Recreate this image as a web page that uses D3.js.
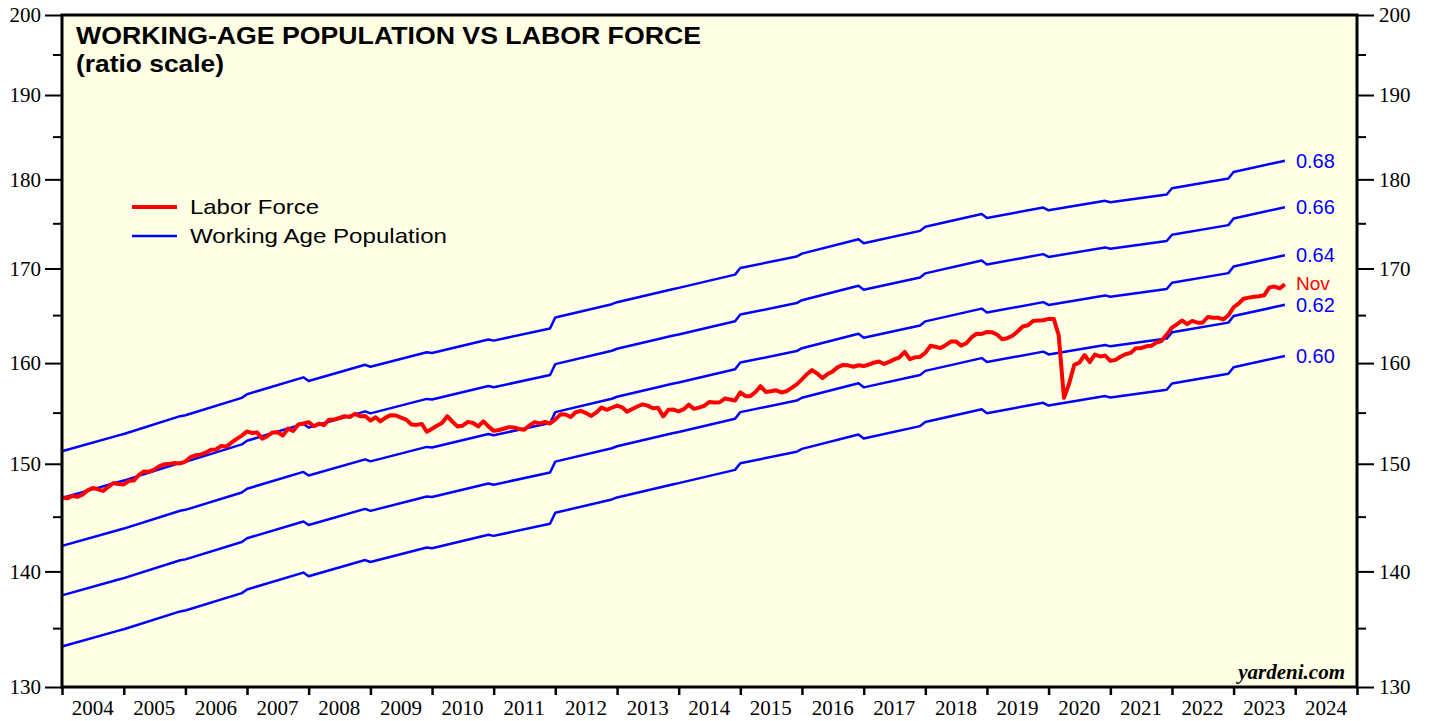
<!DOCTYPE html>
<html>
<head>
<meta charset="utf-8">
<script src="https://cdn.jsdelivr.net/npm/d3@7/dist/d3.min.js"></script>
<style>
  html, body { margin: 0; padding: 0; background: #ffffff; }
  svg { display: block; }
</style>
</head>
<body>
<svg id="chart" width="1432" height="721"></svg>
<script>
// Civilian labor force, millions, monthly from Jan 2004 through Nov 2023
const laborStart = "2004-01";
const laborForce = [
  146.817,146.709,146.944,146.850,147.065,147.460,147.692,147.564,147.415,147.793,148.162,148.059,
  148.029,148.364,148.391,148.926,149.261,149.238,149.432,149.779,149.954,150.001,150.065,150.030,
  150.214,150.641,150.813,150.881,151.069,151.354,151.377,151.716,151.662,152.041,152.406,152.732,
  153.144,152.983,153.051,152.435,152.670,153.041,153.054,152.749,153.414,153.183,153.835,153.918,
  154.063,153.653,153.908,153.769,154.303,154.313,154.469,154.641,154.570,154.876,154.639,154.655,
  154.210,154.538,154.133,154.509,154.747,154.716,154.502,154.307,153.827,153.784,153.878,153.111,
  153.404,153.720,153.964,154.642,154.106,153.631,153.706,154.087,153.971,153.631,154.127,153.639,
  153.198,153.280,153.403,153.566,153.526,153.379,153.309,153.724,154.059,153.940,154.072,153.927,
  154.328,154.826,154.811,154.565,155.034,155.179,154.954,154.669,155.018,155.507,155.279,155.485,
  155.699,155.511,155.099,155.359,155.609,155.822,155.693,155.435,155.473,154.625,155.284,155.307,
  155.128,155.347,155.791,155.377,155.493,155.673,156.061,156.011,156.033,156.402,156.309,156.211,
  157.030,156.644,156.643,157.060,157.651,157.062,157.140,157.229,157.018,157.138,157.477,157.833,
  158.335,158.890,159.286,158.924,158.466,158.880,159.150,159.582,159.810,159.768,159.629,159.779,
  159.693,159.854,160.036,160.169,159.910,160.124,160.383,160.598,161.148,160.402,160.592,160.636,
  161.068,161.783,161.684,161.548,161.846,162.219,162.239,161.803,162.048,162.651,163.038,163.016,
  163.229,163.184,162.960,162.470,162.576,162.828,163.269,163.802,163.925,164.380,164.438,164.455,
  164.606,164.598,162.876,156.474,157.865,159.814,160.044,160.826,160.108,160.876,160.688,160.768,
  160.225,160.328,160.648,160.908,161.048,161.519,161.537,161.733,161.796,162.114,162.304,162.952,
  163.687,164.047,164.431,164.040,164.386,164.201,164.194,164.800,164.717,164.716,164.545,164.966,
  165.832,166.251,166.731,166.860,166.951,167.002,167.105,167.950,168.050,167.850,168.300
];

// Working-age (16+) civilian population, millions: first and last month of each year
const popYears = [2004,2005,2006,2007,2008,2009,2010,2011,2012,2013,2014,2015,2016,2017,2018,2019,2020,2021,2022,2023];
const popFirst = [222.357,224.837,227.553,230.650,232.616,234.739,236.832,238.704,242.269,244.663,
                  246.915,250.080,252.397,254.082,256.780,258.239,259.502,260.851,263.202,265.962];
const popLast  = [224.640,227.425,230.108,233.156,235.035,236.924,238.889,240.584,244.350,246.745,
                  249.027,251.936,254.742,256.109,258.888,259.967,261.085,262.150,264.844,267.895];
const popLastMonth = [12,12,12,12,12,12,12,12,12,12,12,12,12,12,12,12,12,12,12,11];

// Participation ratios drawn as reference lines
const ratios = [0.68, 0.66, 0.64, 0.62, 0.60];
const ratioLabels = ["0.68", "0.66", "0.64", "0.62", "0.60"];

// Axis ticks
const yMajor = [130, 140, 150, 160, 170, 180, 190, 200];
const yMinor = [135, 145, 155, 165, 175, 185, 195];
const yearLabels = ["2004","2005","2006","2007","2008","2009","2010","2011","2012","2013",
                    "2014","2015","2016","2017","2018","2019","2020","2021","2022","2023","2024"];

const titleLines = ["WORKING-AGE POPULATION VS LABOR FORCE", "(ratio scale)"];
const titleWidths = [625, 148];
const legendItems = [
  { label: "Labor Force", color: "#ff0000", width: 4, textWidth: 129 },
  { label: "Working Age Population", color: "#0000ff", width: 2.5, textWidth: 257 }
];
const lastLabel = "Nov";
const sourceText = "yardeni.com";

// ---- layout ----
const plot = { left: 62, right: 1357, top: 15, bottom: 687 };
const svg = d3.select("#chart");
const parseMonth = d3.timeParse("%Y-%m");
const sans = "Liberation Sans, Arial, sans-serif";
const serif = "Liberation Serif, Times New Roman, serif";

const x = d3.scaleTime()
  .domain([new Date(2004, 0, 1), new Date(2025, 0, 1)])
  .range([plot.left, plot.right]);
const y = d3.scaleLog()
  .domain([130, 200])
  .range([plot.bottom, plot.top]);

// build series
const t0 = parseMonth(laborStart);
const laborSeries = laborForce.map((v, i) => ({ date: d3.timeMonth.offset(t0, i), value: v }));
const popSeries = [];
popYears.forEach((yr, i) => {
  popSeries.push({ date: new Date(yr, 0, 1), value: popFirst[i] });
  popSeries.push({ date: new Date(yr, popLastMonth[i] - 1, 1), value: popLast[i] });
});

// plot background
svg.append("rect")
  .attr("x", plot.left).attr("y", plot.top)
  .attr("width", plot.right - plot.left).attr("height", plot.bottom - plot.top)
  .attr("fill", "#ffffe6");

const line = d3.line().x(d => x(d.date)).y(d => y(d.value));

// ratio lines
const ratioG = svg.append("g");
ratios.forEach((r, i) => {
  const pts = popSeries.map(d => ({ date: d.date, value: d.value * r }));
  ratioG.append("path")
    .datum(pts)
    .attr("d", line)
    .attr("fill", "none")
    .attr("stroke", "#0000ff")
    .attr("stroke-width", 2.5)
    .attr("stroke-linejoin", "round");
  const end = pts[pts.length - 1];
  ratioG.append("text")
    .attr("x", x(end.date) + 11)
    .attr("y", y(end.value))
    .attr("dy", "0.35em")
    .attr("fill", "#0000ff")
    .attr("font-family", sans)
    .attr("font-size", 20)
    .text(ratioLabels[i]);
});

// labor force line
svg.append("path")
  .datum(laborSeries)
  .attr("d", line)
  .attr("fill", "none")
  .attr("stroke", "#ff0000")
  .attr("stroke-width", 4)
  .attr("stroke-linejoin", "round");
const lastLabor = laborSeries[laborSeries.length - 1];
svg.append("text")
  .attr("x", x(lastLabor.date) + 11)
  .attr("y", y(lastLabor.value) - 1)
  .attr("dy", "0.35em")
  .attr("fill", "#ff0000")
  .attr("font-family", sans)
  .attr("font-size", 19)
  .text(lastLabel);

// title
svg.append("g").selectAll("text").data(titleLines).join("text")
  .attr("x", 76)
  .attr("y", (d, i) => 44 + i * 28)
  .attr("font-family", sans)
  .attr("font-weight", "bold")
  .attr("font-size", 23)
  .attr("textLength", (d, i) => titleWidths[i])
  .attr("lengthAdjust", "spacingAndGlyphs")
  .attr("fill", "#000")
  .text(d => d);

// legend
const legend = svg.append("g");
legendItems.forEach((d, i) => {
  const ly = 207 + i * 29;
  legend.append("line")
    .attr("x1", 132).attr("x2", 177).attr("y1", ly).attr("y2", ly)
    .attr("stroke", d.color).attr("stroke-width", d.width);
  legend.append("text")
    .attr("x", 190).attr("y", ly).attr("dy", "0.35em")
    .attr("font-family", sans)
    .attr("font-size", 21)
    .attr("textLength", d.textWidth)
    .attr("lengthAdjust", "spacingAndGlyphs")
    .attr("fill", "#000")
    .text(d.label);
});

// source note
svg.append("text")
  .attr("x", 1345).attr("y", 679)
  .attr("text-anchor", "end")
  .attr("font-family", serif)
  .attr("font-weight", "bold")
  .attr("font-style", "italic")
  .attr("font-size", 21)
  .attr("fill", "#000")
  .text(sourceText);

// y axes (left and right) with major and minor ticks
function styleAxis(g) {
  g.select(".domain").remove();
  g.selectAll(".tick line").attr("stroke", "#000").attr("stroke-width", 2);
  g.selectAll(".tick text").attr("font-family", serif).attr("font-size", 21).attr("fill", "#000");
}
svg.append("g")
  .attr("transform", `translate(${plot.left},0)`)
  .call(d3.axisLeft(y).tickValues(yMajor).tickFormat(d3.format("d")).tickSize(17).tickPadding(4))
  .call(styleAxis);
svg.append("g")
  .attr("transform", `translate(${plot.left},0)`)
  .call(d3.axisLeft(y).tickValues(yMinor).tickFormat("").tickSize(9))
  .call(styleAxis);
svg.append("g")
  .attr("transform", `translate(${plot.right},0)`)
  .call(d3.axisRight(y).tickValues(yMajor).tickFormat(d3.format("d")).tickSize(17).tickPadding(5))
  .call(styleAxis);
svg.append("g")
  .attr("transform", `translate(${plot.right},0)`)
  .call(d3.axisRight(y).tickValues(yMinor).tickFormat("").tickSize(9))
  .call(styleAxis);

// x axis: year boundaries as ticks, labels centred within each year
const yearStarts = d3.range(2004, 2026).map(yr => new Date(yr, 0, 1));
svg.append("g")
  .attr("transform", `translate(0,${plot.bottom})`)
  .call(d3.axisBottom(x).tickValues(yearStarts).tickFormat("").tickSize(8))
  .call(g => {
    g.select(".domain").remove();
    g.selectAll(".tick line").attr("stroke", "#000").attr("stroke-width", 2.5);
  });
svg.append("g").selectAll("text").data(yearLabels).join("text")
  .attr("x", d => x(new Date(+d, 6, 1)))
  .attr("y", 715)
  .attr("text-anchor", "middle")
  .attr("font-family", serif)
  .attr("font-size", 21)
  .attr("fill", "#000")
  .text(d => d);

// plot frame
svg.append("rect")
  .attr("x", plot.left).attr("y", plot.top)
  .attr("width", plot.right - plot.left).attr("height", plot.bottom - plot.top)
  .attr("fill", "none")
  .attr("stroke", "#000")
  .attr("stroke-width", 3);
</script>
</body>
</html>
